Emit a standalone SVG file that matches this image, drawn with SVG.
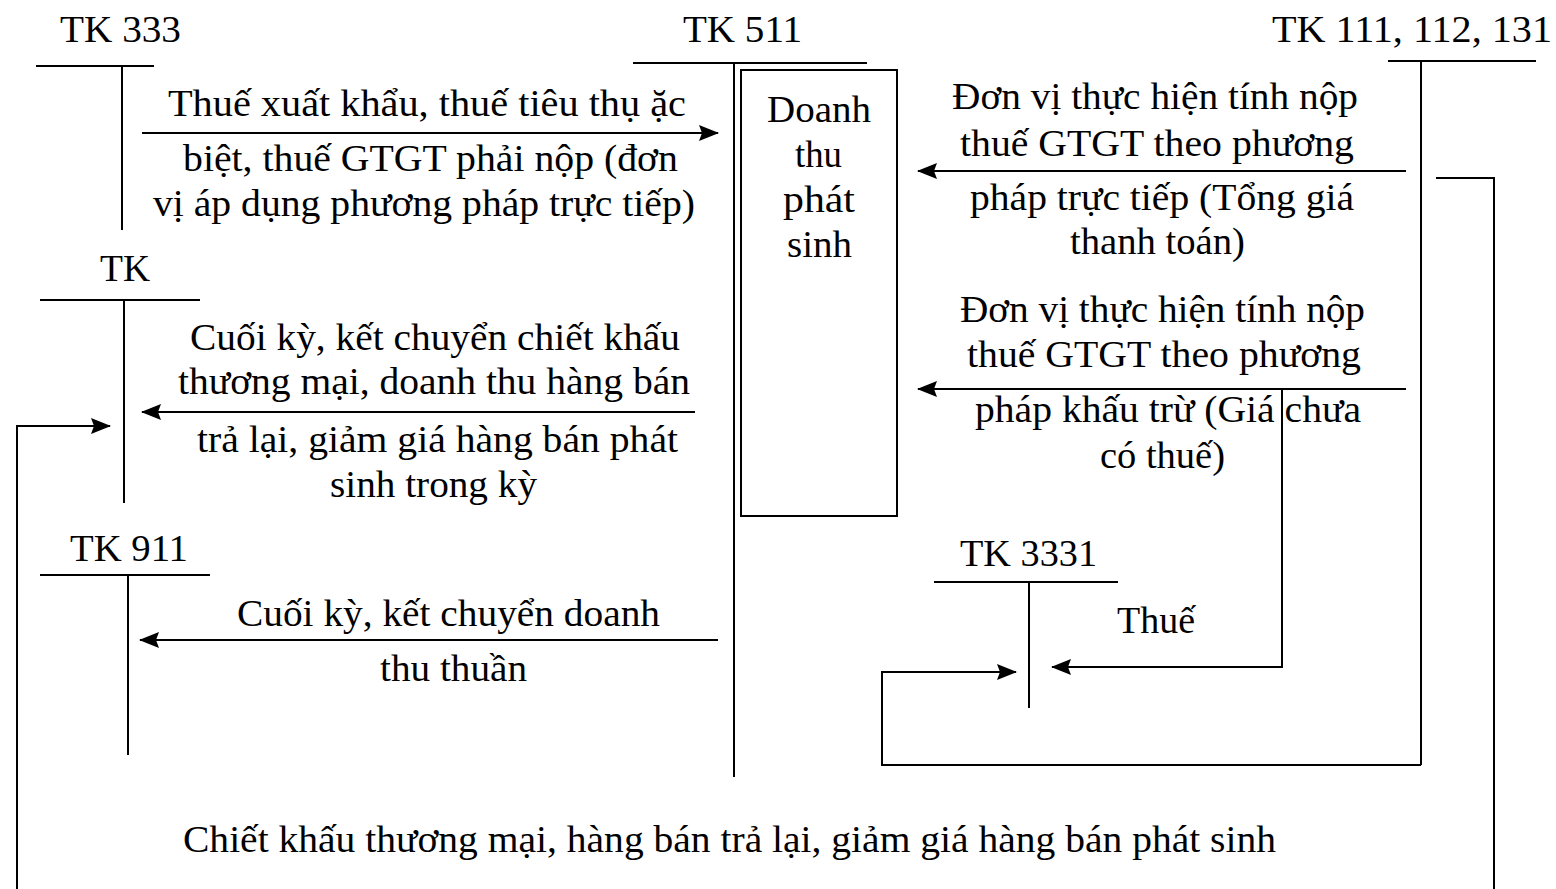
<svg xmlns="http://www.w3.org/2000/svg" width="1556" height="889" viewBox="0 0 1556 889">
<style>
text{font-family:"Liberation Serif","Times New Roman",serif;font-size:38px;fill:#000}
.ln{stroke:#000;stroke-width:2;fill:none}
</style>
<defs>
<marker id="ah" markerUnits="userSpaceOnUse" markerWidth="22" markerHeight="18" refX="19" refY="8" orient="auto">
<path d="M0,0 L20,8 L0,16 L3,8 Z" fill="#000"/>
</marker>
</defs>
<rect width="1556" height="889" fill="#fff"/>
<g id="tk333">
<text x="60" y="42" textLength="121" lengthAdjust="spacingAndGlyphs">TK 333</text>
<path class="ln" d="M36,66 H154 M122,66 V230"/>
</g>
<g id="tk511">
<text x="683" y="42" textLength="119" lengthAdjust="spacingAndGlyphs">TK 511</text>
<path class="ln" d="M633,63 H867 M734,63 V777"/>
</g>
<g id="doanhthu">
<rect class="ln" x="741" y="70" width="156" height="446"/>
<text x="767" y="122" textLength="104" lengthAdjust="spacingAndGlyphs">Doanh</text>
<text x="795" y="167" textLength="47" lengthAdjust="spacingAndGlyphs">thu</text>
<text x="783" y="212" textLength="72" lengthAdjust="spacingAndGlyphs">phát</text>
<text x="787" y="257" textLength="65" lengthAdjust="spacingAndGlyphs">sinh</text>
</g>
<g id="tk111">
<text x="1272" y="42" textLength="280" lengthAdjust="spacingAndGlyphs">TK 111, 112, 131</text>
<path class="ln" d="M1388,61 H1536 M1421,61 V765"/>
</g>
<g id="tk">
<text x="100" y="281" textLength="50" lengthAdjust="spacingAndGlyphs">TK</text>
<path class="ln" d="M40,300 H200 M124,300 V503"/>
</g>
<g id="tk911">
<text x="70" y="561" textLength="118" lengthAdjust="spacingAndGlyphs">TK 911</text>
<path class="ln" d="M40,575 H210 M128,575 V755"/>
</g>
<g id="tk3331">
<text x="960" y="566" textLength="137" lengthAdjust="spacingAndGlyphs">TK 3331</text>
<path class="ln" d="M934,582 H1118 M1029,582 V708"/>
</g>
<g id="connectors">
<path class="ln" d="M142,133 H718" marker-end="url(#ah)"/>
<path class="ln" d="M1406,171 H918" marker-end="url(#ah)"/>
<path class="ln" d="M695,412 H142" marker-end="url(#ah)"/>
<path class="ln" d="M1406,389 H918" marker-end="url(#ah)"/>
<path class="ln" d="M718,640 H140" marker-end="url(#ah)"/>
<path class="ln" d="M1282,389 V667 H1052" marker-end="url(#ah)"/>
<path class="ln" d="M1421,765 H882 V672 H1016" marker-end="url(#ah)"/>
<path class="ln" d="M1436,178 H1494 V889"/>
<path class="ln" d="M17,889 V426 H110" marker-end="url(#ah)"/>
</g>
<g id="labels" xml:space="preserve">
<text x="168" y="116" textLength="518" lengthAdjust="spacingAndGlyphs">Thuế xuất khẩu, thuế tiêu  thụ ặc</text>
<text x="183" y="171" textLength="495" lengthAdjust="spacingAndGlyphs">biệt, thuế GTGT phải nộp (đơn</text>
<text x="153" y="216" textLength="542" lengthAdjust="spacingAndGlyphs">vị áp dụng phương pháp trực tiếp)</text>
<text x="952" y="109" textLength="406" lengthAdjust="spacingAndGlyphs">Đơn vị thực hiện tính nộp</text>
<text x="960" y="156" textLength="394" lengthAdjust="spacingAndGlyphs">thuế GTGT theo phương</text>
<text x="970" y="210" textLength="384" lengthAdjust="spacingAndGlyphs">pháp trực tiếp (Tổng giá</text>
<text x="1070" y="254" textLength="175" lengthAdjust="spacingAndGlyphs">thanh toán)</text>
<text x="190" y="350" textLength="490" lengthAdjust="spacingAndGlyphs">Cuối kỳ, kết chuyển chiết khấu</text>
<text x="178" y="394" textLength="512" lengthAdjust="spacingAndGlyphs">thương mại, doanh thu hàng bán</text>
<text x="197" y="452" textLength="481" lengthAdjust="spacingAndGlyphs">trả lại, giảm  giá hàng bán phát</text>
<text x="330" y="497" textLength="207" lengthAdjust="spacingAndGlyphs">sinh trong kỳ</text>
<text x="960" y="322" textLength="405" lengthAdjust="spacingAndGlyphs">Đơn vị thực hiện tính nộp</text>
<text x="967" y="367" textLength="394" lengthAdjust="spacingAndGlyphs">thuế GTGT theo phương</text>
<text x="975" y="422" textLength="386" lengthAdjust="spacingAndGlyphs">pháp khấu trừ (Giá chưa</text>
<text x="1100" y="468" textLength="125" lengthAdjust="spacingAndGlyphs">có thuế)</text>
<text x="1117" y="633" textLength="78" lengthAdjust="spacingAndGlyphs">Thuế</text>
<text x="237" y="626" textLength="423" lengthAdjust="spacingAndGlyphs">Cuối kỳ, kết chuyển doanh</text>
<text x="380" y="681" textLength="147" lengthAdjust="spacingAndGlyphs">thu thuần</text>
<text x="183" y="852" textLength="1093" lengthAdjust="spacingAndGlyphs">Chiết khấu thương mại, hàng bán trả lại, giảm  giá hàng bán phát sinh</text>
</g>
</svg>
